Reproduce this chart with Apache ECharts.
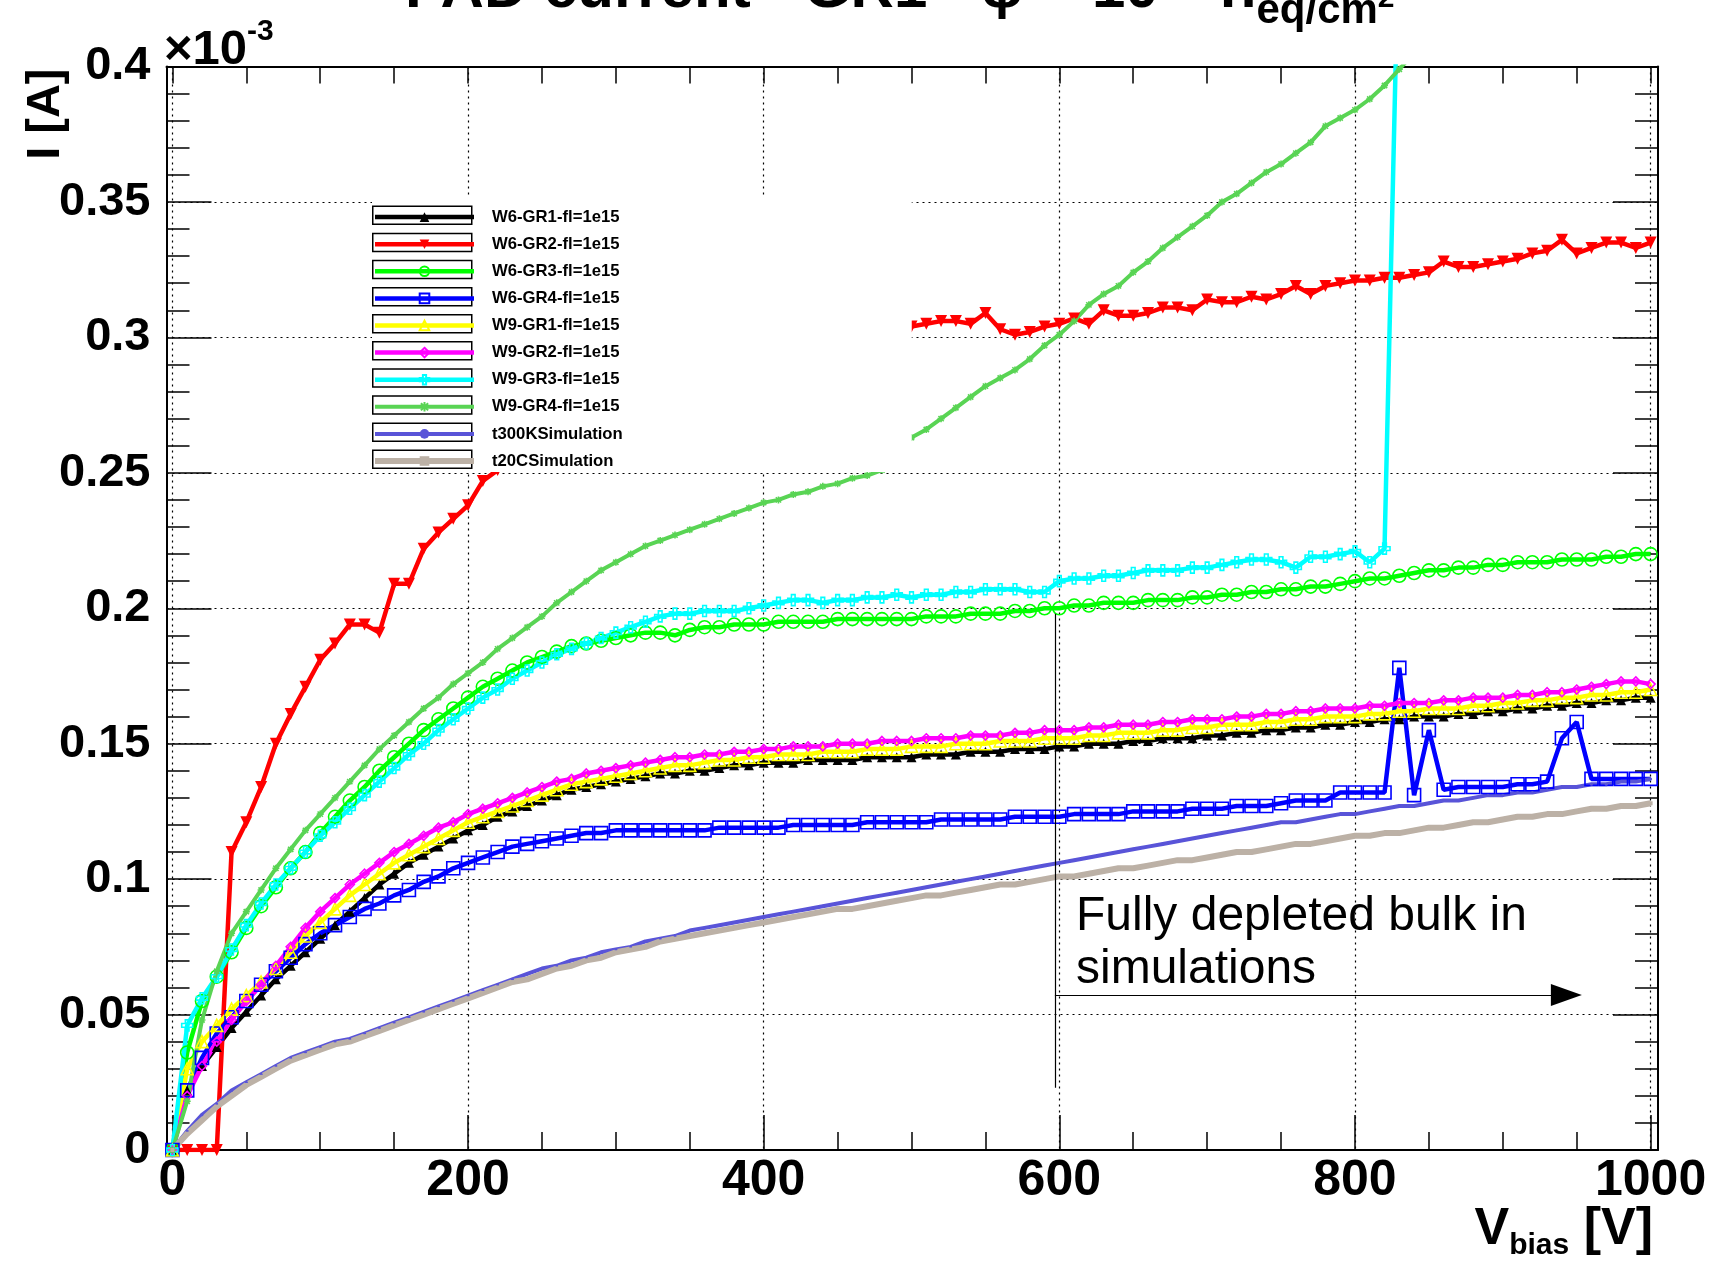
<!DOCTYPE html>
<html>
<head>
<meta charset="utf-8">
<script src="https://cdn.jsdelivr.net/npm/echarts@6/dist/echarts.min.js"></script>
<style>
  html, body { margin: 0; padding: 0; background: #fff; }
  #chart { width: 1717px; height: 1263px; }
</style>
</head>
<body>
<div id="chart"></div>
<script>
// Bias voltage scan points [V]
const biasVoltage = [
  0, 10, 20, 30, 40, 50, 60, 70, 80, 90,
  100, 110, 120, 130, 140, 150, 160, 170, 180, 190,
  200, 210, 220, 230, 240, 250, 260, 270, 280, 290,
  300, 310, 320, 330, 340, 350, 360, 370, 380, 390,
  400, 410, 420, 430, 440, 450, 460, 470, 480, 490,
  500, 510, 520, 530, 540, 550, 560, 570, 580, 590,
  600, 610, 620, 630, 640, 650, 660, 670, 680, 690,
  700, 710, 720, 730, 740, 750, 760, 770, 780, 790,
  800, 810, 820, 830, 840, 850, 860, 870, 880, 890,
  900, 910, 920, 930, 940, 950, 960, 970, 980, 990,
  1000
];

// Axis tick positions
const voltLabelTicks = [0, 200, 400, 600, 800, 1000];
const voltMinorTicks = [0, 50, 100, 150, 200, 250, 300, 350, 400, 450, 500,
  550, 600, 650, 700, 750, 800, 850, 900, 950, 1000];

// Pad current in units of 1e-3 A, one value per bias voltage
const w6gr1 = [
  0, 0.022, 0.031, 0.038, 0.045, 0.051, 0.057, 0.063, 0.068, 0.073,
  0.078, 0.083, 0.088, 0.093, 0.098, 0.102, 0.106, 0.109, 0.112, 0.115,
  0.118, 0.120, 0.123, 0.125, 0.127, 0.129, 0.131, 0.133, 0.134, 0.135,
  0.136, 0.137, 0.138, 0.139, 0.139, 0.140, 0.140, 0.141, 0.142, 0.142,
  0.143, 0.143, 0.143, 0.144, 0.144, 0.144, 0.144, 0.145, 0.145, 0.145,
  0.145, 0.146, 0.146, 0.146, 0.147, 0.147, 0.147, 0.148, 0.148, 0.148,
  0.149, 0.149, 0.150, 0.150, 0.150, 0.151, 0.151, 0.152, 0.152, 0.152,
  0.153, 0.153, 0.154, 0.154, 0.155, 0.155, 0.156, 0.156, 0.157, 0.157,
  0.158, 0.158, 0.159, 0.159, 0.160, 0.160, 0.160, 0.161, 0.161, 0.162,
  0.162, 0.163, 0.163, 0.164, 0.164, 0.165, 0.165, 0.166, 0.166, 0.167,
  0.167
];

const w6gr2 = [
  0, 0, 0, 0, 0.110, 0.121, 0.134, 0.150, 0.161, 0.171,
  0.181, 0.187, 0.194, 0.194, 0.191, 0.209, 0.209, 0.222, 0.228, 0.233,
  0.238, 0.247, 0.251, null, null, null, null, null, null, null,
  null, null, null, null, null, null, null, null, null, null,
  null, null, null, null, null, null, null, null, null, null,
  0.304, 0.305, 0.306, 0.306, 0.305, 0.309, 0.303, 0.301, 0.302, 0.304,
  0.305, 0.307, 0.305, 0.310, 0.308, 0.308, 0.309, 0.311, 0.311, 0.310,
  0.314, 0.313, 0.313, 0.315, 0.314, 0.316, 0.319, 0.316, 0.319, 0.320,
  0.321, 0.321, 0.322, 0.322, 0.323, 0.324, 0.328, 0.326, 0.326, 0.327,
  0.328, 0.329, 0.331, 0.332, 0.336, 0.331, 0.333, 0.335, 0.335, 0.333,
  0.335
];

const w6gr3 = [
  0, 0.036, 0.055, 0.064, 0.073, 0.082, 0.090, 0.097, 0.104, 0.110,
  0.117, 0.123, 0.129, 0.134, 0.140, 0.145, 0.150, 0.155, 0.159, 0.163,
  0.167, 0.171, 0.174, 0.177, 0.180, 0.182, 0.184, 0.186, 0.187, 0.188,
  0.189, 0.190, 0.191, 0.191, 0.190, 0.192, 0.193, 0.193, 0.194, 0.194,
  0.194, 0.195, 0.195, 0.195, 0.195, 0.196, 0.196, 0.196, 0.196, 0.196,
  0.196, 0.197, 0.197, 0.197, 0.198, 0.198, 0.198, 0.199, 0.199, 0.200,
  0.200, 0.201, 0.201, 0.202, 0.202, 0.202, 0.203, 0.203, 0.203, 0.204,
  0.204, 0.205, 0.205, 0.206, 0.206, 0.207, 0.207, 0.208, 0.208, 0.209,
  0.210, 0.211, 0.211, 0.212, 0.213, 0.214, 0.214, 0.215, 0.215, 0.216,
  0.216, 0.217, 0.217, 0.217, 0.218, 0.218, 0.218, 0.219, 0.219, 0.220,
  0.220
];

const w6gr4 = [
  0, 0.022, 0.034, 0.043, 0.049, 0.055, 0.061, 0.066, 0.071, 0.076,
  0.080, 0.083, 0.086, 0.089, 0.091, 0.094, 0.096, 0.099, 0.101, 0.104,
  0.106, 0.108, 0.110, 0.112, 0.113, 0.114, 0.115, 0.116, 0.117, 0.117,
  0.118, 0.118, 0.118, 0.118, 0.118, 0.118, 0.118, 0.119, 0.119, 0.119,
  0.119, 0.119, 0.120, 0.120, 0.120, 0.120, 0.120, 0.121, 0.121, 0.121,
  0.121, 0.121, 0.122, 0.122, 0.122, 0.122, 0.122, 0.123, 0.123, 0.123,
  0.123, 0.124, 0.124, 0.124, 0.124, 0.125, 0.125, 0.125, 0.125, 0.126,
  0.126, 0.126, 0.127, 0.127, 0.127, 0.128, 0.129, 0.129, 0.129, 0.132,
  0.132, 0.132, 0.132, 0.178, 0.131, 0.155, 0.133, 0.134, 0.134, 0.134,
  0.134, 0.135, 0.135, 0.136, 0.152, 0.158, 0.137, 0.137, 0.137, 0.137,
  0.137
];

const w9gr1 = [
  0, 0.030, 0.040, 0.046, 0.052, 0.057, 0.062, 0.067, 0.073, 0.079,
  0.084, 0.089, 0.094, 0.098, 0.102, 0.106, 0.109, 0.112, 0.115, 0.118,
  0.121, 0.123, 0.125, 0.127, 0.129, 0.131, 0.133, 0.135, 0.136, 0.137,
  0.138, 0.139, 0.140, 0.141, 0.142, 0.142, 0.143, 0.144, 0.144, 0.145,
  0.145, 0.146, 0.146, 0.146, 0.147, 0.147, 0.147, 0.148, 0.148, 0.148,
  0.149, 0.149, 0.149, 0.150, 0.150, 0.150, 0.151, 0.151, 0.151, 0.152,
  0.152, 0.152, 0.153, 0.153, 0.154, 0.154, 0.154, 0.155, 0.155, 0.156,
  0.156, 0.157, 0.157, 0.157, 0.158, 0.158, 0.159, 0.159, 0.160, 0.160,
  0.160, 0.161, 0.161, 0.162, 0.162, 0.163, 0.163, 0.163, 0.164, 0.164,
  0.165, 0.165, 0.166, 0.166, 0.167, 0.167, 0.168, 0.168, 0.169, 0.169,
  0.170
];

const w9gr2 = [
  0, 0.020, 0.031, 0.040, 0.048, 0.055, 0.061, 0.068, 0.075, 0.082,
  0.088, 0.093, 0.098, 0.102, 0.106, 0.110, 0.113, 0.116, 0.119, 0.121,
  0.124, 0.126, 0.128, 0.130, 0.132, 0.134, 0.136, 0.137, 0.139, 0.140,
  0.141, 0.142, 0.143, 0.144, 0.145, 0.145, 0.146, 0.146, 0.147, 0.147,
  0.148, 0.148, 0.149, 0.149, 0.149, 0.150, 0.150, 0.150, 0.151, 0.151,
  0.151, 0.152, 0.152, 0.152, 0.153, 0.153, 0.153, 0.154, 0.154, 0.155,
  0.155, 0.155, 0.156, 0.156, 0.157, 0.157, 0.157, 0.158, 0.158, 0.159,
  0.159, 0.159, 0.160, 0.160, 0.161, 0.161, 0.162, 0.162, 0.163, 0.163,
  0.163, 0.164, 0.164, 0.165, 0.165, 0.165, 0.166, 0.166, 0.167, 0.167,
  0.167, 0.168, 0.168, 0.169, 0.169, 0.170, 0.171, 0.172, 0.173, 0.173,
  0.172
];

const w9gr3 = [
  0, 0.046, 0.056, 0.064, 0.074, 0.083, 0.091, 0.098, 0.104, 0.110,
  0.116, 0.121, 0.126, 0.131, 0.136, 0.141, 0.146, 0.150, 0.155, 0.159,
  0.163, 0.167, 0.170, 0.174, 0.177, 0.180, 0.183, 0.185, 0.187, 0.189,
  0.191, 0.193, 0.195, 0.197, 0.198, 0.198, 0.199, 0.199, 0.199, 0.200,
  0.201, 0.202, 0.203, 0.203, 0.202, 0.203, 0.203, 0.204, 0.204, 0.205,
  0.204, 0.205, 0.205, 0.206, 0.206, 0.207, 0.207, 0.207, 0.206, 0.206,
  0.210, 0.211, 0.211, 0.212, 0.212, 0.213, 0.214, 0.214, 0.214, 0.215,
  0.215, 0.216, 0.217, 0.218, 0.218, 0.217, 0.215, 0.219, 0.219, 0.220,
  0.221, 0.217, 0.222, 0.460, null, null, null, null, null, null,
  null, null, null, null, null, null, null, null, null, null,
  null
];

const w9gr4 = [
  0, 0.018, 0.048, 0.066, 0.080, 0.088, 0.096, 0.104, 0.111, 0.118,
  0.124, 0.130, 0.136, 0.142, 0.148, 0.153, 0.158, 0.163, 0.167, 0.172,
  0.176, 0.180, 0.185, 0.189, 0.193, 0.197, 0.202, 0.206, 0.210, 0.214,
  0.217, 0.220, 0.223, 0.225, 0.227, 0.229, 0.231, 0.233, 0.235, 0.237,
  0.239, 0.240, 0.242, 0.243, 0.245, 0.246, 0.248, 0.249, 0.251, 0.256,
  0.263, 0.266, 0.270, 0.274, 0.278, 0.282, 0.285, 0.288, 0.292, 0.297,
  0.301, 0.306, 0.312, 0.316, 0.319, 0.324, 0.328, 0.333, 0.337, 0.341,
  0.345, 0.350, 0.353, 0.357, 0.361, 0.364, 0.368, 0.372, 0.378, 0.381,
  0.384, 0.388, 0.393, 0.399, 0.405, null, null, null, null, null,
  null, null, null, null, null, null, null, null, null, null,
  null
];

const t300KSim = [
  0, 0.007, 0.013, 0.017, 0.022, 0.025, 0.028, 0.031, 0.034, 0.036,
  0.038, 0.040, 0.041, 0.043, 0.045, 0.047, 0.049, 0.051, 0.053, 0.055,
  0.057, 0.059, 0.061, 0.063, 0.065, 0.067, 0.068, 0.070, 0.071, 0.073,
  0.074, 0.075, 0.077, 0.078, 0.079, 0.081, 0.082, 0.083, 0.084, 0.085,
  0.086, 0.087, 0.088, 0.089, 0.090, 0.091, 0.092, 0.093, 0.094, 0.095,
  0.096, 0.097, 0.098, 0.099, 0.100, 0.101, 0.102, 0.103, 0.104, 0.105,
  0.106, 0.107, 0.108, 0.109, 0.110, 0.111, 0.112, 0.113, 0.114, 0.115,
  0.116, 0.117, 0.118, 0.119, 0.120, 0.121, 0.121, 0.122, 0.123, 0.124,
  0.124, 0.125, 0.126, 0.127, 0.127, 0.128, 0.129, 0.129, 0.130, 0.131,
  0.131, 0.132, 0.132, 0.133, 0.134, 0.134, 0.135, 0.135, 0.136, 0.136,
  0.137
];

const t20CSim = [
  0, 0.006, 0.011, 0.016, 0.020, 0.024, 0.027, 0.030, 0.033, 0.035,
  0.037, 0.039, 0.040, 0.042, 0.044, 0.046, 0.048, 0.050, 0.052, 0.054,
  0.056, 0.058, 0.060, 0.062, 0.063, 0.065, 0.067, 0.068, 0.070, 0.071,
  0.073, 0.074, 0.075, 0.077, 0.078, 0.079, 0.080, 0.081, 0.082, 0.083,
  0.084, 0.085, 0.086, 0.087, 0.088, 0.089, 0.089, 0.090, 0.091, 0.092,
  0.093, 0.094, 0.094, 0.095, 0.096, 0.097, 0.098, 0.098, 0.099, 0.100,
  0.101, 0.101, 0.102, 0.103, 0.104, 0.104, 0.105, 0.106, 0.107, 0.107,
  0.108, 0.109, 0.110, 0.110, 0.111, 0.112, 0.113, 0.113, 0.114, 0.115,
  0.116, 0.116, 0.117, 0.117, 0.118, 0.119, 0.119, 0.120, 0.121, 0.121,
  0.122, 0.123, 0.123, 0.124, 0.124, 0.125, 0.126, 0.126, 0.127, 0.127,
  0.128
];

const FONT = '"Liberation Sans", Arial, Helvetica, sans-serif';
const DOTTED = { color: '#000', width: 1.2, type: [2, 4] };
const HOLLOW = 'rgba(255,255,255,0)';
const CROSS_PATH = 'path://M-1,-3L1,-3L1,-1L3,-1L3,1L1,1L1,3L-1,3L-1,1L-3,1L-3,-1L-1,-1Z';
const STAR_PATH = 'path://M0,-4L0,4M-4,0L4,0M-3,-3L3,3M-3,3L3,-3';

function toPoints(values) {
  return values.map((v, i) => [biasVoltage[i], v]);
}

function makeSeries(name, values, color, marker) {
  return {
    name: name,
    type: 'line',
    xAxisIndex: 0,
    yAxisIndex: 0,
    data: toPoints(values),
    symbol: marker.symbol,
    symbolSize: marker.size,
    symbolRotate: marker.rotate || 0,
    showSymbol: true,
    connectNulls: false,
    clip: true,
    animation: false,
    lineStyle: { color: color, width: marker.lineWidth || 4.5 },
    itemStyle: marker.hollow
      ? { color: HOLLOW, borderColor: color, borderWidth: 1.6 }
      : { color: color, borderWidth: 0 },
    emphasis: { disabled: true }
  };
}

const seriesList = [
  makeSeries('W6-GR1-fl=1e15', w6gr1, '#000000', { symbol: 'triangle', size: 10 }),
  makeSeries('W6-GR2-fl=1e15', w6gr2, '#ff0000', { symbol: 'triangle', size: 12, rotate: 180 }),
  makeSeries('W6-GR3-fl=1e15', w6gr3, '#00ff00', { symbol: 'circle', size: 13, hollow: true }),
  makeSeries('W6-GR4-fl=1e15', w6gr4, '#0000ff', { symbol: 'rect', size: 13, hollow: true }),
  makeSeries('W9-GR1-fl=1e15', w9gr1, '#ffff00', { symbol: 'triangle', size: 12, hollow: true }),
  makeSeries('W9-GR2-fl=1e15', w9gr2, '#ff00ff', { symbol: 'diamond', size: 9, hollow: true }),
  makeSeries('W9-GR3-fl=1e15', w9gr3, '#00ffff', { symbol: CROSS_PATH, size: 11, hollow: true }),
  makeSeries('W9-GR4-fl=1e15', w9gr4, '#59d454', { symbol: STAR_PATH, size: 7, hollow: true, lineWidth: 4 }),
  makeSeries('t300KSimulation', t300KSim, '#5954d8', { symbol: 'circle', size: 3, lineWidth: 4 }),
  makeSeries('t20CSimulation', t20CSim, '#bcb1a6', { symbol: 'rect', size: 4, lineWidth: 6 })
];

// Depletion annotation: vertical marker and arrow towards higher bias
seriesList[9].markLine = {
  silent: true,
  animation: false,
  symbol: ['none', 'none'],
  label: { show: false },
  emphasis: { disabled: true },
  lineStyle: { color: '#000', width: 1.2, type: 'solid' },
  data: [
    [{ coord: [597, 0.023] }, { coord: [597, 0.198] }],
    [{ coord: [597, 0.0572], symbol: 'none' },
     { coord: [943, 0.0572], symbol: 'triangle', symbolSize: [22, 31] }]
  ]
};

const chart = echarts.init(document.getElementById('chart'), null, { renderer: 'canvas' });

const gridBox = { left: 166.5, right: 59, top: 66.5, bottom: 113, outerBoundsMode: 'none', containLabel: false };

chart.setOption({
  backgroundColor: '#ffffff',
  animation: false,
  title: [
    {
      text: '{t|PAD current - GR1 - φ = 10}{sup|15}{t| n}{sub|eq/cm}{sup2|2}',
      left: 405,
      top: -51,
      padding: 0,
      textStyle: {
        rich: {
          t: { fontFamily: FONT, fontWeight: 'bold', fontSize: 60, color: '#000' },
          sup: { fontFamily: FONT, fontWeight: 'bold', fontSize: 40, color: '#000', padding: [0, 0, 40, 0] },
          sub: { fontFamily: FONT, fontWeight: 'bold', fontSize: 42, color: '#000', padding: [41, 0, 0, 0] },
          sup2: { fontFamily: FONT, fontWeight: 'bold', fontSize: 30, color: '#000', padding: [17, 0, 0, 0] }
        }
      }
    },
    {
      text: '{a|×10}{e|-3}',
      left: 164,
      top: 17,
      padding: 0,
      textStyle: {
        rich: {
          a: { fontFamily: FONT, fontSize: 49, color: '#000' },
          e: { fontFamily: FONT, fontSize: 30, color: '#000', padding: [0, 0, 37, 0] }
        }
      }
    }
  ],
  legend: [
    {
      orient: 'vertical',
      left: 372,
      top: 196,
      padding: [9.6, 435, 3, 0],
      itemWidth: 99,
      itemHeight: 18,
      itemGap: 7.6,
      icon: 'rect',
      backgroundColor: '#ffffff',
      selectedMode: false,
      itemStyle: { color: '#ffffff', borderColor: '#000', borderWidth: 1.5 },
      formatter: function () { return ''; },
      textStyle: { fontSize: 12, lineHeight: 18 },
      z: 4
    },
    {
      orient: 'vertical',
      left: 372,
      top: 199,
      padding: [9.6, 0, 3, 0],
      itemWidth: 99,
      itemHeight: 12,
      itemGap: 10.1,
      selectedMode: false,
      lineStyle: { width: 'inherit' },
      textStyle: {
        fontFamily: FONT, fontWeight: 'bold', fontSize: 16.7, color: '#000',
        lineHeight: 12, padding: [0, 0, 0, 13]
      },
      z: 5
    }
  ],
  grid: [Object.assign({}, gridBox), Object.assign({}, gridBox)],
  xAxis: [
    {
      type: 'value',
      gridIndex: 0,
      position: 'bottom',
      min: -4,
      max: 1005,
      axisLine: { show: true, onZero: false, lineStyle: { color: '#000', width: 2 } },
      axisTick: { show: true, inside: true, length: 35, customValues: voltLabelTicks, lineStyle: { color: '#000', width: 1.5 } },
      axisLabel: {
        show: true, customValues: voltLabelTicks,
        formatter: function (v) { return String(v); },
        fontFamily: FONT, fontWeight: 'bold', fontSize: 50, color: '#000', margin: 6
      },
      splitLine: { show: true, lineStyle: DOTTED },
      name: '{v|V}{s|bias}{v| [V]}',
      nameLocation: 'end',
      nameGap: -5,
      nameMoveOverlap: false,
      nameTextStyle: {
        align: 'right',
        verticalAlign: 'top',
        padding: [48, 0, 0, 0],
        rich: {
          v: { fontFamily: FONT, fontWeight: 'bold', fontSize: 52, color: '#000' },
          s: { fontFamily: FONT, fontWeight: 'bold', fontSize: 30, color: '#000', padding: [33, 0, 0, 0] }
        }
      }
    },
    {
      type: 'value',
      gridIndex: 1,
      position: 'bottom',
      min: -4,
      max: 1005,
      axisLine: { show: false },
      axisTick: { show: true, inside: true, length: 18, customValues: voltMinorTicks, lineStyle: { color: '#000', width: 1.5 } },
      axisLabel: { show: false },
      splitLine: { show: false }
    },
    {
      type: 'value',
      gridIndex: 1,
      position: 'top',
      min: -4,
      max: 1005,
      axisLine: { show: true, onZero: false, lineStyle: { color: '#000', width: 2 } },
      axisTick: { show: true, inside: true, length: 17, customValues: voltMinorTicks, lineStyle: { color: '#000', width: 1.5 } },
      axisLabel: { show: false },
      splitLine: { show: false }
    }
  ],
  yAxis: [
    {
      type: 'value',
      gridIndex: 0,
      position: 'left',
      min: 0,
      max: 0.4,
      interval: 0.05,
      axisLine: { show: true, onZero: false, lineStyle: { color: '#000', width: 2 } },
      axisTick: { show: true, inside: true, length: 45, lineStyle: { color: '#000', width: 1.5 } },
      minorTick: { show: true, splitNumber: 5, length: 23, lineStyle: { color: '#000', width: 1.5 } },
      axisLabel: { fontFamily: FONT, fontWeight: 'bold', fontSize: 47, color: '#000', margin: 16 },
      splitLine: { show: true, lineStyle: DOTTED },
      name: 'I [A]',
      nameLocation: 'end',
      nameRotate: 90,
      nameGap: -2,
      nameMoveOverlap: false,
      nameTextStyle: {
        fontFamily: FONT, fontWeight: 'bold', fontSize: 47, color: '#000',
        align: 'right', verticalAlign: 'bottom', padding: [0, 0, 97, 0]
      }
    },
    {
      type: 'value',
      gridIndex: 1,
      position: 'right',
      min: 0,
      max: 0.4,
      interval: 0.05,
      axisLine: { show: true, onZero: false, lineStyle: { color: '#000', width: 2 } },
      axisTick: { show: true, inside: true, length: 45, lineStyle: { color: '#000', width: 1.5 } },
      minorTick: { show: true, splitNumber: 5, length: 23, lineStyle: { color: '#000', width: 1.5 } },
      axisLabel: { show: false },
      splitLine: { show: false }
    }
  ],
  graphic: [
    {
      type: 'text',
      left: 1076,
      top: 890,
      silent: true,
      z: 10,
      style: {
        text: 'Fully depleted bulk in\nsimulations',
        font: '48px "Liberation Sans", Arial, sans-serif',
        lineHeight: 53,
        fill: '#000'
      }
    }
  ],
  series: seriesList
});
</script>
</body>
</html>
